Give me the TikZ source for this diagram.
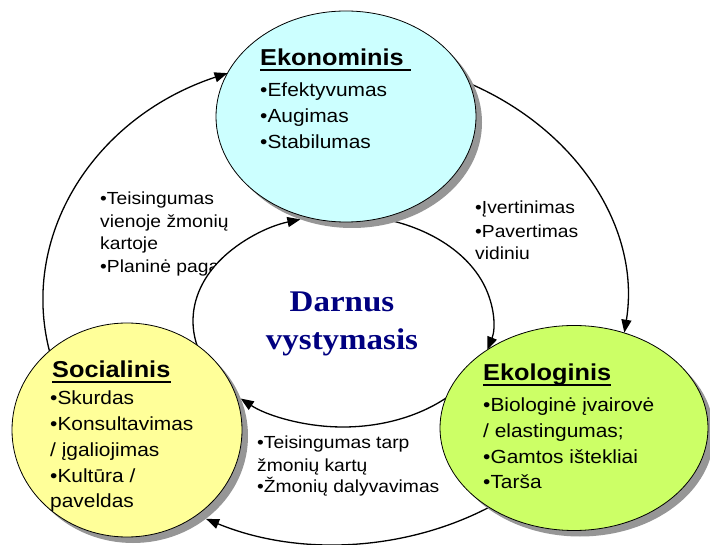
\documentclass[tikz,border=0pt]{standalone}
\usepackage{fontspec}
\setmainfont{Liberation Sans}[FakeStretch=1.1]
\newfontfamily\titlefont{Liberation Serif}[FakeStretch=1.1]
\usetikzlibrary{shapes.geometric,arrows.meta}
\definecolor{cyanfill}{HTML}{CCFFFF}
\definecolor{yellowfill}{HTML}{FFFF99}
\definecolor{greenfill}{HTML}{CCFF66}
\definecolor{shadowgray}{HTML}{969696}
\definecolor{navytext}{HTML}{000080}
\begin{document}
\begin{tikzpicture}[x=1pt,y=1pt,
  bubble/.style={ellipse, draw=black, line width=0.8pt, inner sep=0pt},
  shade/.style={ellipse, fill=shadowgray, inner sep=0pt},
  head/.style={anchor=base west, inner sep=0pt, font=\fontsize{23}{28}\selectfont\bfseries},
  body/.style={anchor=base west, inner sep=0pt, font=\fontsize{19}{23}\selectfont},
  lbl/.style={anchor=base west, inner sep=0pt, font=\fontsize{17.5}{21}\selectfont},
  flow/.style={line width=1.3pt, -{Triangle[length=13pt,width=10pt]}},
  uline/.style={line width=2.8pt},
  title/.style={anchor=base, inner sep=0pt, text=navytext, font=\titlefont\fontsize{30}{36}\selectfont\bfseries}]
\useasboundingbox (0,0) rectangle (710,544);
\fill[white] (0,0) rectangle (710,544);

% labels between the circles
\node[lbl] (l1) at (100,339) {•Teisingumas};
\node[lbl] (l2) at (100,316.5) {vienoje žmonių};
\node[lbl] (l3) at (100,294) {kartoje};
\node[lbl] (l4) at (100,271.5) {•Planinė paga};
\node[lbl] (r1) at (475,330.7) {•Įvertinimas};
\node[lbl] (r2) at (475,306.7) {•Pavertimas};
\node[lbl] (r3) at (475,284) {vidiniu};
\node[lbl] (b1) at (257,95.7) {•Teisingumas tarp};
\node[lbl] (b2) at (257,72.3) {žmonių kartų};
\node[lbl] (b3) at (257,51.3) {•Žmonių dalyvavimas};

% centres of the two cycles
\coordinate (outC) at (335,244);
\coordinate (inC) at (343,223);

% inner white ellipse
\node[ellipse, fill=white, inner sep=0pt, minimum width=300, minimum height=212] (mid) at (inC) {};

% outer cycle
\draw[flow] (outC) ++(195:292 and 244) arc[start angle=195, end angle=111.6, x radius=292, y radius=244];
\draw[flow] (outC) ++(66:292 and 244) arc[start angle=66, end angle=-7.7, x radius=292, y radius=244];
\draw[flow] (outC) ++(-52:292 and 244) arc[start angle=-52, end angle=-116.2, x radius=292, y radius=244];
% inner cycle
\draw[flow] (inC) ++(205:150 and 106) arc[start angle=205, end angle=106.5, x radius=150, y radius=106];
\draw[flow] (inC) ++(80:150 and 106) arc[start angle=80, end angle=-15.8, x radius=150, y radius=106];
\draw[flow] (inC) ++(-35:150 and 106) arc[start angle=-35, end angle=-133, x radius=150, y radius=106];

% shadows
\node[shade, minimum width=260, minimum height=211] (ekoS) at (352,421.5) {};
\node[shade, minimum width=230, minimum height=214] (socS) at (133,108) {};
\node[shade, minimum width=268, minimum height=205] (ekolS) at (580,110) {};

% bubbles
\node[bubble, fill=cyanfill, minimum width=260, minimum height=211] (eko) at (346,427.5) {};
\node[bubble, fill=yellowfill, minimum width=230, minimum height=214] (soc) at (127,114) {};
\node[bubble, fill=greenfill, minimum width=268, minimum height=205] (ekol) at (574,116) {};

% Ekonominis text
\node[head] (ekoH) at (260,478) {Ekonominis};
\draw[uline] ([yshift=-4pt]ekoH.base west) -- ([yshift=-4pt,xshift=7pt]ekoH.base east);
\node[body] (eko1) at (260,447) {•Efektyvumas};
\node[body] (eko2) at (260,421) {•Augimas};
\node[body] (eko3) at (260,395) {•Stabilumas};

% Socialinis text
\node[head] (socH) at (52,166) {Socialinis};
\draw[uline] ([yshift=-4pt]socH.base west) -- ([yshift=-4pt]socH.base east);
\node[body] (soc1) at (50,139) {•Skurdas};
\node[body] (soc2) at (50,113) {•Konsultavimas};
\node[body] (soc3) at (50,87) {/ įgaliojimas};
\node[body] (soc4) at (50,62) {•Kultūra /};
\node[body] (soc5) at (50,37) {paveldas};

% Ekologinis text
\node[head] (ekolH) at (483,163) {Ekologinis};
\draw[uline] ([yshift=-4pt]ekolH.base west) -- ([yshift=-4pt]ekolH.base east);
\node[body] (ekol1) at (483,132) {•Biologinė įvairovė};
\node[body] (ekol2) at (483,106.5) {/ elastingumas;};
\node[body] (ekol3) at (483,81) {•Gamtos ištekliai};
\node[body] (ekol4) at (483,56) {•Tarša};

% centre title
\node[title] (c1) at (342,232) {Darnus};
\node[title] (c2) at (342,194) {vystymasis};
\end{tikzpicture}
\end{document}
